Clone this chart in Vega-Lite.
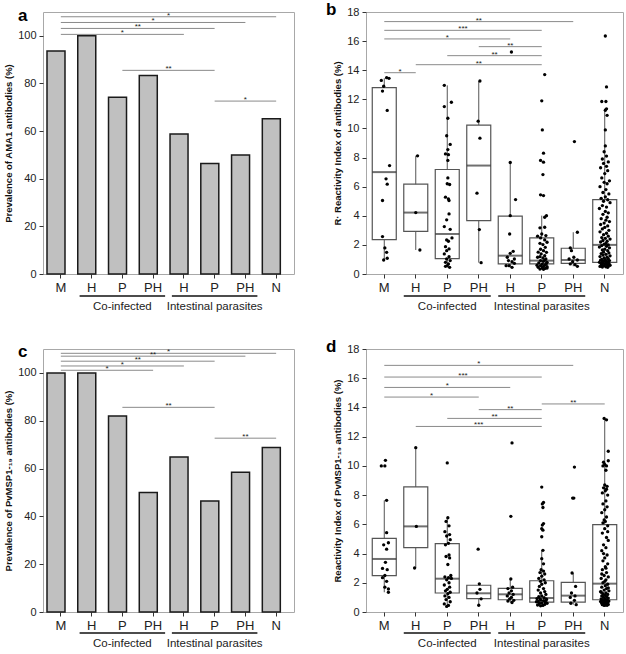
{
"$schema":"https://vega.github.io/schema/vega-lite/v6.json",
"background":"white",
"padding":{"left":3,"top":0,"right":0,"bottom":0},
"config":{
 "font":"Liberation Sans",
 "view":{"stroke":"#a8a8a8","strokeWidth":1},
 "axis":{"domain":false,"grid":false,"tickColor":"#333","tickSize":4,"labelColor":"#222","labelFont":"Liberation Sans","titleFont":"Liberation Sans","titleFontWeight":"bold","titleFontSize":9.5,"titleColor":"#111"},
 "axisY":{"labelFontSize":11,"labelPadding":3,"titlePadding":4},
 "axisX":{"labelFontSize":13,"labelPadding":3,"labelAngle":0},
 "title":{"font":"Liberation Sans","fontSize":17,"fontWeight":"bold","anchor":"start","frame":"group","color":"#000","offset":-13}
},
"datasets":{
 "barsA":[{"g":"M","v":93.6},{"g":"H.c","v":100},{"g":"P.c","v":74.2},{"g":"PH.c","v":83.3},{"g":"H.i","v":58.8},{"g":"P.i","v":46.4},{"g":"PH.i","v":50},{"g":"N","v":65.2}],
 "barsC":[{"g":"M","v":100},{"g":"H.c","v":100},{"g":"P.c","v":82},{"g":"PH.c","v":50},{"g":"H.i","v":64.8},{"g":"P.i","v":46.4},{"g":"PH.i","v":58.4},{"g":"N","v":68.8}],
 "brA":[{"a":1,"b":8,"m":4.5,"y":108.0,"s":"*"},{"a":1,"b":7,"m":4,"y":105.6,"s":"*"},{"a":1,"b":6,"m":3.5,"y":103.1,"s":"**"},{"a":1,"b":5,"m":3,"y":100.6,"s":"*"},{"a":3,"b":6,"m":4.5,"y":85.5,"s":"**"},{"a":6,"b":8,"m":7,"y":72.6,"s":"*"}],
 "brC":[{"a":1,"b":8,"m":4.5,"y":108.2,"s":"*"},{"a":1,"b":7,"m":4,"y":107.0,"s":"**"},{"a":1,"b":6,"m":3.5,"y":104.9,"s":"**"},{"a":1,"b":5,"m":3,"y":102.9,"s":"*"},{"a":1,"b":4,"m":2.5,"y":101.1,"s":"*"},{"a":3,"b":6,"m":4.5,"y":85.6,"s":"**"},{"a":6,"b":8,"m":7,"y":72.7,"s":"**"}],
 "brB":[{"a":1,"b":7,"m":4,"y":17.34,"s":"**"},{"a":1,"b":6,"m":3.5,"y":16.74,"s":"***"},{"a":1,"b":5,"m":3,"y":16.15,"s":"*"},{"a":4,"b":6,"m":5,"y":15.62,"s":"**"},{"a":3,"b":6,"m":4.5,"y":15.0,"s":"**"},{"a":2,"b":6,"m":4,"y":14.38,"s":"**"},{"a":1,"b":2,"m":1.5,"y":13.83,"s":"*"}],
 "brD":[{"a":1,"b":7,"m":4,"y":16.88,"s":"*"},{"a":1,"b":6,"m":3.5,"y":16.08,"s":"***"},{"a":1,"b":5,"m":3,"y":15.37,"s":"*"},{"a":1,"b":4,"m":2.5,"y":14.71,"s":"*"},{"a":6,"b":8,"m":7,"y":14.24,"s":"**"},{"a":4,"b":6,"m":5,"y":13.85,"s":"**"},{"a":3,"b":6,"m":4.5,"y":13.25,"s":"**"},{"a":2,"b":6,"m":4,"y":12.7,"s":"***"}],
 "groups":[{"a":2,"b":4,"m":3,"label":"Co-infected"},{"a":5,"b":7,"m":6,"label":"Intestinal parasites"}],
 "boxB":[
  {"g":"M","lo":0.92,"q1":2.36,"med":7.0,"q3":12.8,"hi":13.45},
  {"g":"H.c","lo":1.65,"q1":2.93,"med":4.22,"q3":6.17,"hi":8.12},
  {"g":"P.c","lo":0.46,"q1":1.05,"med":2.75,"q3":7.18,"hi":12.96},
  {"g":"PH.c","lo":0.78,"q1":3.67,"med":7.45,"q3":10.23,"hi":13.26},
  {"g":"H.i","lo":0.46,"q1":0.69,"med":1.26,"q3":3.97,"hi":7.66},
  {"g":"P.i","lo":0.32,"q1":0.69,"med":0.92,"q3":2.48,"hi":4.01},
  {"g":"PH.i","lo":0.53,"q1":0.73,"med":0.96,"q3":1.77,"hi":2.87},
  {"g":"N","lo":0.46,"q1":0.8,"med":2.0,"q3":5.11,"hi":11.35}],
 "boxD":[
  {"g":"M","lo":1.35,"q1":2.49,"med":3.63,"q3":5.04,"hi":7.64},
  {"g":"H.c","lo":3.01,"q1":4.4,"med":5.86,"q3":8.56,"hi":11.25},
  {"g":"P.c","lo":0.38,"q1":1.3,"med":2.28,"q3":4.68,"hi":6.45},
  {"g":"PH.c","lo":0.46,"q1":0.91,"med":1.28,"q3":1.83,"hi":1.93},
  {"g":"H.i","lo":0.65,"q1":0.84,"med":1.21,"q3":1.62,"hi":2.26},
  {"g":"P.i","lo":0.42,"q1":0.68,"med":0.96,"q3":2.14,"hi":4.22},
  {"g":"PH.i","lo":0.5,"q1":0.68,"med":1.12,"q3":2.03,"hi":2.67},
  {"g":"N","lo":0.45,"q1":0.84,"med":1.94,"q3":5.98,"hi":13.2}],
 "ptsB":[
  {"g":"M","v":13.3,"j":-0.5},{"g":"M","v":13.49,"j":0.4},{"g":"M","v":13.44,"j":0.8},{"g":"M","v":12.9,"j":-0.1},{"g":"M","v":12.57,"j":-0.3},{"g":"M","v":11.24,"j":0.5},{"g":"M","v":7.45,"j":0.9},{"g":"M","v":6.54,"j":0.3},{"g":"M","v":6.17,"j":0.5},{"g":"M","v":5.05,"j":-0.3},{"g":"M","v":2.57,"j":-0.3},{"g":"M","v":1.79,"j":0.1},{"g":"M","v":1.49,"j":0.4},{"g":"M","v":1.08,"j":0.5},{"g":"M","v":0.96,"j":-0.1},
  {"g":"H.c","v":8.12,"j":0.3},{"g":"H.c","v":4.22,"j":0},{"g":"H.c","v":1.65,"j":0.7},
  {"g":"P.c","v":12.96,"j":-0.5},{"g":"P.c","v":11.8,"j":0.7},{"g":"P.c","v":11.5,"j":-0.5},{"g":"P.c","v":10.7,"j":0.1},{"g":"P.c","v":9.5,"j":-0.1},{"g":"P.c","v":8.9,"j":0.5},{"g":"P.c","v":8.55,"j":0.1},{"g":"P.c","v":8.25,"j":-0.3},{"g":"P.c","v":8.2,"j":0.2},{"g":"P.c","v":7.8,"j":0.1},{"g":"P.c","v":6.6,"j":0.1},{"g":"P.c","v":6.2,"j":0},{"g":"P.c","v":6.15,"j":0.4},{"g":"P.c","v":5.28,"j":-0.3},{"g":"P.c","v":5.16,"j":0.2},{"g":"P.c","v":5.05,"j":0.3},{"g":"P.c","v":4.13,"j":0.3},{"g":"P.c","v":3.72,"j":-0.1},{"g":"P.c","v":3.26,"j":-0.5},{"g":"P.c","v":3.07,"j":0.5},{"g":"P.c","v":2.48,"j":0.8},{"g":"P.c","v":2.34,"j":-0.1},{"g":"P.c","v":2.25,"j":0.2},{"g":"P.c","v":1.88,"j":-0.3},{"g":"P.c","v":1.72,"j":0.3},{"g":"P.c","v":1.6,"j":-0.1},{"g":"P.c","v":1.38,"j":-0.5},{"g":"P.c","v":1.19,"j":0.3},{"g":"P.c","v":1.03,"j":-0.1},{"g":"P.c","v":0.92,"j":0.5},{"g":"P.c","v":0.8,"j":-0.3},{"g":"P.c","v":0.69,"j":0.2},{"g":"P.c","v":0.57,"j":0},{"g":"P.c","v":0.53,"j":-0.3},{"g":"P.c","v":0.46,"j":0.4},
  {"g":"PH.c","v":13.26,"j":0.2},{"g":"PH.c","v":10.5,"j":-0.1},{"g":"PH.c","v":9.33,"j":0.2},{"g":"PH.c","v":5.55,"j":-0.3},{"g":"PH.c","v":3.05,"j":0.1},{"g":"PH.c","v":0.78,"j":0.4},
  {"g":"H.i","v":15.25,"j":0.2},{"g":"H.i","v":7.66,"j":0},{"g":"H.i","v":5.11,"j":0.9},{"g":"H.i","v":4.01,"j":0},{"g":"H.i","v":2.75,"j":-0.1},{"g":"H.i","v":1.56,"j":0.5},{"g":"H.i","v":1.42,"j":0},{"g":"H.i","v":1.15,"j":-0.5},{"g":"H.i","v":1.03,"j":0.7},{"g":"H.i","v":0.92,"j":-0.3},{"g":"H.i","v":0.85,"j":0.3},{"g":"H.i","v":0.73,"j":0.7},{"g":"H.i","v":0.57,"j":-0.2},{"g":"H.i","v":0.57,"j":-0.7},{"g":"H.i","v":0.46,"j":0.3},
  {"g":"P.i","v":13.7,"j":0.5},{"g":"P.i","v":11.9,"j":0},{"g":"P.i","v":9.9,"j":0.1},{"g":"P.i","v":8.3,"j":0.3},{"g":"P.i","v":7.8,"j":-0.2},{"g":"P.i","v":7.68,"j":0.3},{"g":"P.i","v":6.83,"j":0.2},{"g":"P.i","v":5.44,"j":-0.2},{"g":"P.i","v":5.39,"j":0.3},{"g":"P.i","v":4.01,"j":0.8},{"g":"P.i","v":3.9,"j":0.5},{"g":"P.i","v":3.21,"j":0.5},{"g":"P.i","v":3.17,"j":-0.3},{"g":"P.i","v":2.75,"j":0},{"g":"P.i","v":2.64,"j":0.7},{"g":"P.i","v":2.48,"j":-0.2},{"g":"P.i","v":2.34,"j":0.5},{"g":"P.i","v":2.18,"j":0.9},{"g":"P.i","v":2.11,"j":-0.3},{"g":"P.i","v":2.02,"j":0.2},{"g":"P.i","v":1.83,"j":0.6},{"g":"P.i","v":1.7,"j":-0.2},{"g":"P.i","v":1.6,"j":0.3},{"g":"P.i","v":1.49,"j":0.8},{"g":"P.i","v":1.38,"j":-0.1},{"g":"P.i","v":1.26,"j":0.5},{"g":"P.i","v":1.19,"j":-0.3},{"g":"P.i","v":1.1,"j":0.2},{"g":"P.i","v":1.03,"j":0.7},{"g":"P.i","v":0.92,"j":-0.2},{"g":"P.i","v":0.87,"j":0.3},{"g":"P.i","v":0.8,"j":0.9},{"g":"P.i","v":0.76,"j":-0.5},{"g":"P.i","v":0.69,"j":0.1},{"g":"P.i","v":0.64,"j":0.6},{"g":"P.i","v":0.57,"j":-0.2},{"g":"P.i","v":0.53,"j":0.3},{"g":"P.i","v":0.5,"j":0.9},{"g":"P.i","v":0.46,"j":-0.6},{"g":"P.i","v":0.41,"j":0.1},{"g":"P.i","v":0.39,"j":0.6},{"g":"P.i","v":0.34,"j":-0.3},{"g":"P.i","v":0.32,"j":0.3},{"g":"P.i","v":0.41,"j":0.9},{"g":"P.i","v":0.6,"j":-0.8},{"g":"P.i","v":0.72,"j":0.8},{"g":"P.i","v":0.95,"j":0.5},{"g":"P.i","v":1.15,"j":-0.7},{"g":"P.i","v":1.5,"j":-0.6},{"g":"P.i","v":2.6,"j":-0.7},
  {"g":"PH.i","v":9.1,"j":0.2},{"g":"PH.i","v":2.87,"j":0.7},{"g":"PH.i","v":1.79,"j":-0.5},{"g":"PH.i","v":1.6,"j":-0.3},{"g":"PH.i","v":1.15,"j":0.1},{"g":"PH.i","v":1.03,"j":-0.7},{"g":"PH.i","v":0.96,"j":0.7},{"g":"PH.i","v":0.85,"j":-0.1},{"g":"PH.i","v":0.69,"j":-0.5},{"g":"PH.i","v":0.64,"j":0.3},{"g":"PH.i","v":0.53,"j":0.7},
  {"g":"N","v":16.35,"j":0.1},{"g":"N","v":12.85,"j":0.3},{"g":"N","v":11.85,"j":-0.5},{"g":"N","v":11.85,"j":0.2},{"g":"N","v":11.35,"j":0.3},{"g":"N","v":11.25,"j":0.1},{"g":"N","v":10.9,"j":0.4},{"g":"N","v":9.9,"j":0.1},{"g":"N","v":8.8,"j":0.1},{"g":"N","v":8.4,"j":-0.1},{"g":"N","v":8.1,"j":0.3},
  {"g":"N","v":7.9,"j":-0.4},{"g":"N","v":7.7,"j":0.6},{"g":"N","v":7.6,"j":-0.2},{"g":"N","v":7.4,"j":0.3},{"g":"N","v":7.3,"j":-0.7},{"g":"N","v":7.1,"j":0.5},{"g":"N","v":6.9,"j":0},{"g":"N","v":6.6,"j":-0.5},{"g":"N","v":6.4,"j":0.8},{"g":"N","v":6.3,"j":-0.1},{"g":"N","v":6.2,"j":0.4},{"g":"N","v":6.0,"j":-0.8},{"g":"N","v":5.8,"j":0.2},{"g":"N","v":5.6,"j":-0.3},{"g":"N","v":5.5,"j":0.7},{"g":"N","v":5.3,"j":0.1},{"g":"N","v":5.2,"j":-0.6},{"g":"N","v":5.1,"j":0.5},{"g":"N","v":5.0,"j":-0.2},{"g":"N","v":4.9,"j":0.9},{"g":"N","v":4.7,"j":-0.4},{"g":"N","v":4.6,"j":0.3},{"g":"N","v":4.5,"j":-0.9},{"g":"N","v":4.3,"j":0.1},{"g":"N","v":4.2,"j":0.6},{"g":"N","v":4.1,"j":-0.3},{"g":"N","v":3.9,"j":0.4},{"g":"N","v":3.8,"j":-0.6},{"g":"N","v":3.7,"j":0.2},{"g":"N","v":3.6,"j":0.8},{"g":"N","v":3.5,"j":-0.1},{"g":"N","v":3.4,"j":-0.7},{"g":"N","v":3.3,"j":0.5},{"g":"N","v":3.2,"j":0},{"g":"N","v":3.1,"j":-0.4},{"g":"N","v":3.0,"j":0.7},{"g":"N","v":2.9,"j":-0.8},{"g":"N","v":2.8,"j":0.3},{"g":"N","v":2.7,"j":-0.2},{"g":"N","v":2.6,"j":0.6},{"g":"N","v":2.5,"j":-0.5},{"g":"N","v":2.45,"j":0.1},{"g":"N","v":2.4,"j":0.9},{"g":"N","v":2.3,"j":-0.3},{"g":"N","v":2.25,"j":0.4},{"g":"N","v":2.2,"j":-0.7},{"g":"N","v":2.1,"j":0.2},{"g":"N","v":2.05,"j":-0.1},{"g":"N","v":2.0,"j":0.6},{"g":"N","v":1.95,"j":-0.5},{"g":"N","v":1.9,"j":0.3},{"g":"N","v":1.85,"j":-0.9},{"g":"N","v":1.8,"j":0.8},{"g":"N","v":1.7,"j":0},{"g":"N","v":1.65,"j":-0.4},{"g":"N","v":1.6,"j":0.5},{"g":"N","v":1.5,"j":-0.2},{"g":"N","v":1.45,"j":0.7},{"g":"N","v":1.4,"j":-0.6},{"g":"N","v":1.35,"j":0.2},{"g":"N","v":1.3,"j":-0.3},{"g":"N","v":1.25,"j":0.9},{"g":"N","v":1.2,"j":-0.8},{"g":"N","v":1.15,"j":0.4},{"g":"N","v":1.1,"j":-0.1},{"g":"N","v":1.05,"j":0.6},{"g":"N","v":1.0,"j":-0.5},{"g":"N","v":0.98,"j":0.1},{"g":"N","v":0.95,"j":-0.7},{"g":"N","v":0.92,"j":0.8},{"g":"N","v":0.9,"j":-0.2},{"g":"N","v":0.88,"j":0.3},{"g":"N","v":0.85,"j":-0.4},{"g":"N","v":0.82,"j":0.5},{"g":"N","v":0.8,"j":-0.9},{"g":"N","v":0.78,"j":0.2},{"g":"N","v":0.75,"j":-0.3},{"g":"N","v":0.72,"j":0.7},{"g":"N","v":0.7,"j":-0.6},{"g":"N","v":0.68,"j":0},{"g":"N","v":0.65,"j":0.4},{"g":"N","v":0.62,"j":-0.5},{"g":"N","v":0.6,"j":0.9},{"g":"N","v":0.58,"j":-0.1},{"g":"N","v":0.55,"j":0.6},{"g":"N","v":0.52,"j":-0.8},{"g":"N","v":0.5,"j":0.2},{"g":"N","v":0.48,"j":-0.4},{"g":"N","v":0.46,"j":0.5}],
 "ptsD":[
  {"g":"M","v":10.38,"j":0.2},{"g":"M","v":10.0,"j":-0.5},{"g":"M","v":10.0,"j":0.1},{"g":"M","v":7.64,"j":0.4},{"g":"M","v":5.43,"j":0.4},{"g":"M","v":4.74,"j":0.7},{"g":"M","v":4.6,"j":-0.1},{"g":"M","v":4.3,"j":0.4},{"g":"M","v":3.4,"j":0.2},{"g":"M","v":2.98,"j":-0.3},{"g":"M","v":2.9,"j":0.5},{"g":"M","v":2.5,"j":0.1},{"g":"M","v":2.35,"j":-0.3},{"g":"M","v":2.1,"j":0.4},{"g":"M","v":1.7,"j":0.1},{"g":"M","v":1.58,"j":0.7},{"g":"M","v":1.35,"j":0.7},
  {"g":"H.c","v":11.25,"j":0},{"g":"H.c","v":5.86,"j":0.1},{"g":"H.c","v":3.01,"j":-0.2},
  {"g":"P.c","v":10.2,"j":0},{"g":"P.c","v":6.45,"j":0.1},{"g":"P.c","v":6.2,"j":-0.2},{"g":"P.c","v":5.9,"j":0.3},{"g":"P.c","v":5.5,"j":-0.4},{"g":"P.c","v":5.3,"j":0.4},{"g":"P.c","v":5.2,"j":-0.1},{"g":"P.c","v":4.95,"j":0.5},{"g":"P.c","v":4.7,"j":0.2},{"g":"P.c","v":4.6,"j":-0.3},{"g":"P.c","v":3.9,"j":0.3},{"g":"P.c","v":3.8,"j":-0.2},{"g":"P.c","v":3.7,"j":0.4},{"g":"P.c","v":3.25,"j":0.1},{"g":"P.c","v":2.5,"j":0.6},{"g":"P.c","v":2.4,"j":-0.4},{"g":"P.c","v":2.35,"j":0.2},{"g":"P.c","v":2.3,"j":0.7},{"g":"P.c","v":2.2,"j":-0.1},{"g":"P.c","v":2.0,"j":0.3},{"g":"P.c","v":1.85,"j":-0.5},{"g":"P.c","v":1.7,"j":0.4},{"g":"P.c","v":1.55,"j":0},{"g":"P.c","v":1.45,"j":-0.3},{"g":"P.c","v":1.35,"j":0.5},{"g":"P.c","v":1.25,"j":0.1},{"g":"P.c","v":1.1,"j":-0.4},{"g":"P.c","v":1.0,"j":0.3},{"g":"P.c","v":0.85,"j":-0.2},{"g":"P.c","v":0.7,"j":0.5},{"g":"P.c","v":0.55,"j":-0.5},{"g":"P.c","v":0.45,"j":0.2},{"g":"P.c","v":0.38,"j":-0.1},
  {"g":"PH.c","v":4.3,"j":-0.1},{"g":"PH.c","v":1.93,"j":0.1},{"g":"PH.c","v":1.55,"j":0.2},{"g":"PH.c","v":1.3,"j":-0.3},{"g":"PH.c","v":0.9,"j":0.4},{"g":"PH.c","v":0.46,"j":0},
  {"g":"H.i","v":11.57,"j":0.3},{"g":"H.i","v":6.55,"j":0.1},{"g":"H.i","v":2.26,"j":0.1},{"g":"H.i","v":1.7,"j":0.4},{"g":"H.i","v":1.6,"j":-0.4},{"g":"H.i","v":1.45,"j":0.2},{"g":"H.i","v":1.3,"j":-0.2},{"g":"H.i","v":1.2,"j":0.5},{"g":"H.i","v":1.1,"j":-0.5},{"g":"H.i","v":1.0,"j":0.2},{"g":"H.i","v":0.9,"j":-0.1},{"g":"H.i","v":0.8,"j":0.6},{"g":"H.i","v":0.75,"j":-0.4},{"g":"H.i","v":0.65,"j":0.3},
  {"g":"P.i","v":8.55,"j":0},{"g":"P.i","v":7.5,"j":0.3},{"g":"P.i","v":7.4,"j":0.1},{"g":"P.i","v":7.15,"j":0.2},{"g":"P.i","v":6.05,"j":0.3},{"g":"P.i","v":5.95,"j":0.1},{"g":"P.i","v":5.7,"j":0},{"g":"P.i","v":5.6,"j":0.2},{"g":"P.i","v":5.15,"j":0},{"g":"P.i","v":4.22,"j":0.2},{"g":"P.i","v":3.65,"j":0},{"g":"P.i","v":3.3,"j":0.3},{"g":"P.i","v":2.9,"j":-0.1},{"g":"P.i","v":2.8,"j":0.3},{"g":"P.i","v":2.7,"j":-0.3},{"g":"P.i","v":2.6,"j":0.5},{"g":"P.i","v":2.45,"j":0},{"g":"P.i","v":2.3,"j":-0.5},{"g":"P.i","v":2.2,"j":0.4},{"g":"P.i","v":2.1,"j":-0.2},{"g":"P.i","v":2.0,"j":0.6},{"g":"P.i","v":1.9,"j":0},{"g":"P.i","v":1.75,"j":-0.4},{"g":"P.i","v":1.6,"j":0.3},{"g":"P.i","v":1.5,"j":-0.6},{"g":"P.i","v":1.4,"j":0.5},{"g":"P.i","v":1.3,"j":-0.2},{"g":"P.i","v":1.2,"j":0.7},{"g":"P.i","v":1.1,"j":0},{"g":"P.i","v":1.05,"j":-0.5},{"g":"P.i","v":0.98,"j":0.4},{"g":"P.i","v":0.92,"j":-0.8},{"g":"P.i","v":0.88,"j":0.8},{"g":"P.i","v":0.82,"j":-0.2},{"g":"P.i","v":0.78,"j":0.3},{"g":"P.i","v":0.72,"j":-0.6},{"g":"P.i","v":0.68,"j":0.6},{"g":"P.i","v":0.62,"j":0},{"g":"P.i","v":0.58,"j":-0.4},{"g":"P.i","v":0.52,"j":0.5},{"g":"P.i","v":0.48,"j":-0.7},{"g":"P.i","v":0.45,"j":0.2},{"g":"P.i","v":0.42,"j":-0.2},{"g":"P.i","v":0.6,"j":0.9},{"g":"P.i","v":0.7,"j":-0.9},{"g":"P.i","v":0.8,"j":0.7},{"g":"P.i","v":0.9,"j":-0.3},
  {"g":"PH.i","v":9.92,"j":0.2},{"g":"PH.i","v":7.8,"j":-0.1},{"g":"PH.i","v":7.8,"j":0.1},{"g":"PH.i","v":2.67,"j":-0.2},{"g":"PH.i","v":1.75,"j":0.4},{"g":"PH.i","v":1.3,"j":-0.3},{"g":"PH.i","v":1.1,"j":0.3},{"g":"PH.i","v":1.0,"j":-0.5},{"g":"PH.i","v":0.8,"j":0.2},{"g":"PH.i","v":0.6,"j":-0.4},{"g":"PH.i","v":0.5,"j":0.5},
  {"g":"N","v":13.25,"j":-0.1},{"g":"N","v":13.15,"j":0.3},{"g":"N","v":11.0,"j":0.6},{"g":"N","v":10.35,"j":0.6},{"g":"N","v":10.25,"j":-0.2},{"g":"N","v":10.1,"j":0},{"g":"N","v":10.0,"j":0.3},{"g":"N","v":10.0,"j":-0.3},{"g":"N","v":9.7,"j":0.2},{"g":"N","v":8.7,"j":0},{"g":"N","v":8.6,"j":0.4},{"g":"N","v":8.5,"j":-0.2},{"g":"N","v":8.4,"j":0.3},{"g":"N","v":8.3,"j":0.1},{"g":"N","v":8.15,"j":-0.4},{"g":"N","v":8.0,"j":0.5},{"g":"N","v":7.6,"j":0.2},{"g":"N","v":7.4,"j":-0.3},{"g":"N","v":7.2,"j":0.4},{"g":"N","v":7.0,"j":0},{"g":"N","v":6.8,"j":-0.5},{"g":"N","v":6.5,"j":0.3},{"g":"N","v":6.3,"j":-0.1},{"g":"N","v":6.2,"j":0.1},{"g":"N","v":6.1,"j":-0.3},{"g":"N","v":5.9,"j":0.5},{"g":"N","v":5.7,"j":0},{"g":"N","v":5.5,"j":0.5},{"g":"N","v":5.4,"j":-0.4},{"g":"N","v":5.1,"j":0.3},{"g":"N","v":4.9,"j":0.6},{"g":"N","v":4.6,"j":-0.2},{"g":"N","v":4.4,"j":0.2},{"g":"N","v":4.2,"j":-0.5},{"g":"N","v":4.0,"j":-0.2},{"g":"N","v":3.9,"j":0.4},{"g":"N","v":3.7,"j":0},{"g":"N","v":3.5,"j":-0.3},{"g":"N","v":3.3,"j":0.5},{"g":"N","v":3.1,"j":0.1},{"g":"N","v":3.0,"j":0.2},{"g":"N","v":2.9,"j":-0.4},{"g":"N","v":2.7,"j":0.3},{"g":"N","v":2.6,"j":-0.5},{"g":"N","v":2.5,"j":-0.1},{"g":"N","v":2.4,"j":0.6},{"g":"N","v":2.3,"j":-0.6},{"g":"N","v":2.2,"j":0.2},{"g":"N","v":2.1,"j":0},{"g":"N","v":2.0,"j":-0.3},{"g":"N","v":1.9,"j":0.5},{"g":"N","v":1.8,"j":0.1},{"g":"N","v":1.7,"j":-0.5},{"g":"N","v":1.65,"j":0.6},{"g":"N","v":1.6,"j":0.3},{"g":"N","v":1.5,"j":-0.1},{"g":"N","v":1.45,"j":0.7},{"g":"N","v":1.4,"j":-0.7},{"g":"N","v":1.35,"j":-0.6},{"g":"N","v":1.3,"j":0.2},{"g":"N","v":1.25,"j":-0.3},{"g":"N","v":1.2,"j":0.5},{"g":"N","v":1.15,"j":0},{"g":"N","v":1.1,"j":-0.5},{"g":"N","v":1.05,"j":0.3},{"g":"N","v":1.0,"j":-0.2},{"g":"N","v":0.95,"j":0.6},{"g":"N","v":0.9,"j":-0.6},{"g":"N","v":0.88,"j":0.1},{"g":"N","v":0.85,"j":0.4},{"g":"N","v":0.82,"j":-0.4},{"g":"N","v":0.8,"j":0.2},{"g":"N","v":0.78,"j":-0.1},{"g":"N","v":0.75,"j":0.7},{"g":"N","v":0.72,"j":-0.7},{"g":"N","v":0.7,"j":0.3},{"g":"N","v":0.68,"j":-0.3},{"g":"N","v":0.65,"j":0.5},{"g":"N","v":0.62,"j":0},{"g":"N","v":0.6,"j":-0.5},{"g":"N","v":0.58,"j":0.2},{"g":"N","v":0.55,"j":-0.2},{"g":"N","v":0.52,"j":0.6},{"g":"N","v":0.5,"j":-0.4},{"g":"N","v":0.48,"j":0.1},{"g":"N","v":0.46,"j":0.4},{"g":"N","v":0.45,"j":-0.1}]
},
"spacing":24,
"vconcat":[
{"spacing":30,"hconcat":[
 {"width":251,"height":262,"title":{"text":"a","dx":-25},"resolve":{"scale":{"x":"independent"}},
  "layer":[
   {"data":{"name":"barsA"},"mark":{"type":"bar","fill":"#c0c0c0","stroke":"#1a1a1a","strokeWidth":1.5},
    "encoding":{"x":{"field":"g","type":"nominal","sort":null,"title":null,"scale":{"domain":["M","H.c","P.c","PH.c","H.i","P.i","PH.i","N"],"paddingInner":0.1,"paddingOuter":0.13},"axis":{"labelExpr":"split(datum.label,'.')[0]"}},
     "y":{"field":"v","type":"quantitative","title":"Prevalence of AMA1 antibodies (%)","scale":{"domain":[0,110],"nice":false},"axis":{"values":[0,20,40,60,80,100]}}}},
   {"data":{"name":"brA"},"mark":{"type":"rule","color":"#8a8a8a","strokeWidth":1},
    "encoding":{"x":{"field":"a","type":"quantitative","axis":null,"scale":{"domain":[0.42,8.58],"nice":false,"zero":false}},"x2":{"field":"b"},
     "y":{"field":"y","type":"quantitative","title":"Prevalence of AMA1 antibodies (%)","axis":{"values":[0,20,40,60,80,100]}}}},
   {"data":{"name":"brA"},"mark":{"type":"text","fontSize":8,"baseline":"alphabetic","dy":1,"color":"#222"},
    "encoding":{"x":{"field":"m","type":"quantitative","axis":null,"scale":{"domain":[0.42,8.58],"nice":false,"zero":false}},
     "y":{"field":"y","type":"quantitative","title":"Prevalence of AMA1 antibodies (%)","axis":{"values":[0,20,40,60,80,100]}},"text":{"field":"s"}}},
   {"data":{"name":"groups"},"mark":{"type":"rule","color":"#111","strokeWidth":1.5,"yOffset":22,"xOffset":-12,"x2Offset":12},
    "encoding":{"x":{"field":"a","type":"quantitative","axis":null,"scale":{"domain":[0.42,8.58],"nice":false,"zero":false}},"x2":{"field":"b"},"y":{"datum":0,"type":"quantitative","axis":{"values":[0,20,40,60,80,100]}}}},
   {"data":{"name":"groups"},"mark":{"type":"text","fontSize":11.5,"baseline":"middle","yOffset":33,"color":"#222"},
    "encoding":{"x":{"field":"m","type":"quantitative","axis":null,"scale":{"domain":[0.42,8.58],"nice":false,"zero":false}},"y":{"datum":0,"type":"quantitative","axis":{"values":[0,20,40,60,80,100]}},"text":{"field":"label"}}}
  ]},
 {"width":257,"height":262,"title":{"text":"b","dx":-40},"resolve":{"scale":{"x":"independent"}},
  "layer":[
   {"data":{"name":"boxB"},"mark":{"type":"rule","color":"#555","strokeWidth":1},
    "encoding":{"x":{"field":"g","type":"nominal","sort":null,"title":null,"scale":{"domain":["M","H.c","P.c","PH.c","H.i","P.i","PH.i","N"],"paddingInner":0.1,"paddingOuter":0.13},"axis":{"labelExpr":"split(datum.label,'.')[0]"}},
     "y":{"field":"lo","type":"quantitative","title":"R·  Reactivity Index of antibodies (%)","scale":{"domain":[0,18],"nice":false},"axis":{"values":[0,2,4,6,8,10,12,14,16,18]}},"y2":{"field":"hi"}}},
   {"data":{"name":"boxB"},"mark":{"type":"bar","fill":"white","stroke":"#555","strokeWidth":1.2,"width":24},
    "encoding":{"x":{"field":"g","type":"nominal","sort":null,"title":null,"scale":{"domain":["M","H.c","P.c","PH.c","H.i","P.i","PH.i","N"],"paddingInner":0.1,"paddingOuter":0.13},"axis":null},
     "y":{"field":"q1","type":"quantitative","title":"R·  Reactivity Index of antibodies (%)","axis":{"values":[0,2,4,6,8,10,12,14,16,18]}},"y2":{"field":"q3"}}},
   {"data":{"name":"boxB"},"mark":{"type":"tick","color":"#333","thickness":2,"size":24},
    "encoding":{"x":{"field":"g","type":"nominal","sort":null,"title":null,"scale":{"domain":["M","H.c","P.c","PH.c","H.i","P.i","PH.i","N"],"paddingInner":0.1,"paddingOuter":0.13},"axis":null},
     "y":{"field":"med","type":"quantitative","title":"R·  Reactivity Index of antibodies (%)","axis":{"values":[0,2,4,6,8,10,12,14,16,18]}}}},
   {"data":{"name":"ptsB"},"mark":{"type":"circle","color":"#000","opacity":1,"size":11},
    "encoding":{"x":{"field":"g","type":"nominal","sort":null,"title":null,"scale":{"domain":["M","H.c","P.c","PH.c","H.i","P.i","PH.i","N"],"paddingInner":0.1,"paddingOuter":0.13},"axis":null},
     "xOffset":{"field":"j","type":"quantitative","scale":{"domain":[-2.4,2.4]}},
     "y":{"field":"v","type":"quantitative","title":"R·  Reactivity Index of antibodies (%)","axis":{"values":[0,2,4,6,8,10,12,14,16,18]}}}},
   {"data":{"name":"brB"},"mark":{"type":"rule","color":"#8a8a8a","strokeWidth":1},
    "encoding":{"x":{"field":"a","type":"quantitative","axis":null,"scale":{"domain":[0.42,8.58],"nice":false,"zero":false}},"x2":{"field":"b"},
     "y":{"field":"y","type":"quantitative","title":"R·  Reactivity Index of antibodies (%)","axis":{"values":[0,2,4,6,8,10,12,14,16,18]}}}},
   {"data":{"name":"brB"},"mark":{"type":"text","fontSize":8,"baseline":"alphabetic","dy":1,"color":"#222"},
    "encoding":{"x":{"field":"m","type":"quantitative","axis":null,"scale":{"domain":[0.42,8.58],"nice":false,"zero":false}},
     "y":{"field":"y","type":"quantitative","title":"R·  Reactivity Index of antibodies (%)","axis":{"values":[0,2,4,6,8,10,12,14,16,18]}},"text":{"field":"s"}}},
   {"data":{"name":"groups"},"mark":{"type":"rule","color":"#111","strokeWidth":1.5,"yOffset":22,"xOffset":-12,"x2Offset":12},
    "encoding":{"x":{"field":"a","type":"quantitative","axis":null,"scale":{"domain":[0.42,8.58],"nice":false,"zero":false}},"x2":{"field":"b"},"y":{"datum":0,"type":"quantitative","axis":{"values":[0,2,4,6,8,10,12,14,16,18]}}}},
   {"data":{"name":"groups"},"mark":{"type":"text","fontSize":11.5,"baseline":"middle","yOffset":33,"color":"#222"},
    "encoding":{"x":{"field":"m","type":"quantitative","axis":null,"scale":{"domain":[0.42,8.58],"nice":false,"zero":false}},"y":{"datum":0,"type":"quantitative","axis":{"values":[0,2,4,6,8,10,12,14,16,18]}},"text":{"field":"label"}}}
  ]}
]},
{"spacing":30,"hconcat":[
 {"width":251,"height":263,"title":{"text":"c","dx":-25},"resolve":{"scale":{"x":"independent"}},
  "layer":[
   {"data":{"name":"barsC"},"mark":{"type":"bar","fill":"#c0c0c0","stroke":"#1a1a1a","strokeWidth":1.5},
    "encoding":{"x":{"field":"g","type":"nominal","sort":null,"title":null,"scale":{"domain":["M","H.c","P.c","PH.c","H.i","P.i","PH.i","N"],"paddingInner":0.1,"paddingOuter":0.13},"axis":{"labelExpr":"split(datum.label,'.')[0]"}},
     "y":{"field":"v","type":"quantitative","title":"Prevalence of PvMSP1-₁₉ antibodies (%)","scale":{"domain":[0,110],"nice":false},"axis":{"values":[0,20,40,60,80,100]}}}},
   {"data":{"name":"brC"},"mark":{"type":"rule","color":"#8a8a8a","strokeWidth":1},
    "encoding":{"x":{"field":"a","type":"quantitative","axis":null,"scale":{"domain":[0.42,8.58],"nice":false,"zero":false}},"x2":{"field":"b"},
     "y":{"field":"y","type":"quantitative","title":"Prevalence of PvMSP1-₁₉ antibodies (%)","axis":{"values":[0,20,40,60,80,100]}}}},
   {"data":{"name":"brC"},"mark":{"type":"text","fontSize":8,"baseline":"alphabetic","dy":1,"color":"#222"},
    "encoding":{"x":{"field":"m","type":"quantitative","axis":null,"scale":{"domain":[0.42,8.58],"nice":false,"zero":false}},
     "y":{"field":"y","type":"quantitative","title":"Prevalence of PvMSP1-₁₉ antibodies (%)","axis":{"values":[0,20,40,60,80,100]}},"text":{"field":"s"}}},
   {"data":{"name":"groups"},"mark":{"type":"rule","color":"#111","strokeWidth":1.5,"yOffset":21,"xOffset":-12,"x2Offset":12},
    "encoding":{"x":{"field":"a","type":"quantitative","axis":null,"scale":{"domain":[0.42,8.58],"nice":false,"zero":false}},"x2":{"field":"b"},"y":{"datum":0,"type":"quantitative","axis":{"values":[0,20,40,60,80,100]}}}},
   {"data":{"name":"groups"},"mark":{"type":"text","fontSize":11.5,"baseline":"middle","yOffset":32,"color":"#222"},
    "encoding":{"x":{"field":"m","type":"quantitative","axis":null,"scale":{"domain":[0.42,8.58],"nice":false,"zero":false}},"y":{"datum":0,"type":"quantitative","axis":{"values":[0,20,40,60,80,100]}},"text":{"field":"label"}}}
  ]},
 {"width":257,"height":263,"title":{"text":"d","dx":-40},"resolve":{"scale":{"x":"independent"}},
  "layer":[
   {"data":{"name":"boxD"},"mark":{"type":"rule","color":"#555","strokeWidth":1},
    "encoding":{"x":{"field":"g","type":"nominal","sort":null,"title":null,"scale":{"domain":["M","H.c","P.c","PH.c","H.i","P.i","PH.i","N"],"paddingInner":0.1,"paddingOuter":0.13},"axis":{"labelExpr":"split(datum.label,'.')[0]"}},
     "y":{"field":"lo","type":"quantitative","title":"Reactivity Index of PvMSP1-₁₉ antibodies (%)","scale":{"domain":[0,18],"nice":false},"axis":{"values":[0,2,4,6,8,10,12,14,16,18]}},"y2":{"field":"hi"}}},
   {"data":{"name":"boxD"},"mark":{"type":"bar","fill":"white","stroke":"#555","strokeWidth":1.2,"width":24},
    "encoding":{"x":{"field":"g","type":"nominal","sort":null,"title":null,"scale":{"domain":["M","H.c","P.c","PH.c","H.i","P.i","PH.i","N"],"paddingInner":0.1,"paddingOuter":0.13},"axis":null},
     "y":{"field":"q1","type":"quantitative","title":"Reactivity Index of PvMSP1-₁₉ antibodies (%)","axis":{"values":[0,2,4,6,8,10,12,14,16,18]}},"y2":{"field":"q3"}}},
   {"data":{"name":"boxD"},"mark":{"type":"tick","color":"#333","thickness":2,"size":24},
    "encoding":{"x":{"field":"g","type":"nominal","sort":null,"title":null,"scale":{"domain":["M","H.c","P.c","PH.c","H.i","P.i","PH.i","N"],"paddingInner":0.1,"paddingOuter":0.13},"axis":null},
     "y":{"field":"med","type":"quantitative","title":"Reactivity Index of PvMSP1-₁₉ antibodies (%)","axis":{"values":[0,2,4,6,8,10,12,14,16,18]}}}},
   {"data":{"name":"ptsD"},"mark":{"type":"circle","color":"#000","opacity":1,"size":11},
    "encoding":{"x":{"field":"g","type":"nominal","sort":null,"title":null,"scale":{"domain":["M","H.c","P.c","PH.c","H.i","P.i","PH.i","N"],"paddingInner":0.1,"paddingOuter":0.13},"axis":null},
     "xOffset":{"field":"j","type":"quantitative","scale":{"domain":[-2.4,2.4]}},
     "y":{"field":"v","type":"quantitative","title":"Reactivity Index of PvMSP1-₁₉ antibodies (%)","axis":{"values":[0,2,4,6,8,10,12,14,16,18]}}}},
   {"data":{"name":"brD"},"mark":{"type":"rule","color":"#8a8a8a","strokeWidth":1},
    "encoding":{"x":{"field":"a","type":"quantitative","axis":null,"scale":{"domain":[0.42,8.58],"nice":false,"zero":false}},"x2":{"field":"b"},
     "y":{"field":"y","type":"quantitative","title":"Reactivity Index of PvMSP1-₁₉ antibodies (%)","axis":{"values":[0,2,4,6,8,10,12,14,16,18]}}}},
   {"data":{"name":"brD"},"mark":{"type":"text","fontSize":8,"baseline":"alphabetic","dy":1,"color":"#222"},
    "encoding":{"x":{"field":"m","type":"quantitative","axis":null,"scale":{"domain":[0.42,8.58],"nice":false,"zero":false}},
     "y":{"field":"y","type":"quantitative","title":"Reactivity Index of PvMSP1-₁₉ antibodies (%)","axis":{"values":[0,2,4,6,8,10,12,14,16,18]}},"text":{"field":"s"}}},
   {"data":{"name":"groups"},"mark":{"type":"rule","color":"#111","strokeWidth":1.5,"yOffset":21,"xOffset":-12,"x2Offset":12},
    "encoding":{"x":{"field":"a","type":"quantitative","axis":null,"scale":{"domain":[0.42,8.58],"nice":false,"zero":false}},"x2":{"field":"b"},"y":{"datum":0,"type":"quantitative","axis":{"values":[0,2,4,6,8,10,12,14,16,18]}}}},
   {"data":{"name":"groups"},"mark":{"type":"text","fontSize":11.5,"baseline":"middle","yOffset":32,"color":"#222"},
    "encoding":{"x":{"field":"m","type":"quantitative","axis":null,"scale":{"domain":[0.42,8.58],"nice":false,"zero":false}},"y":{"datum":0,"type":"quantitative","axis":{"values":[0,2,4,6,8,10,12,14,16,18]}},"text":{"field":"label"}}}
  ]}
]}
]
}
